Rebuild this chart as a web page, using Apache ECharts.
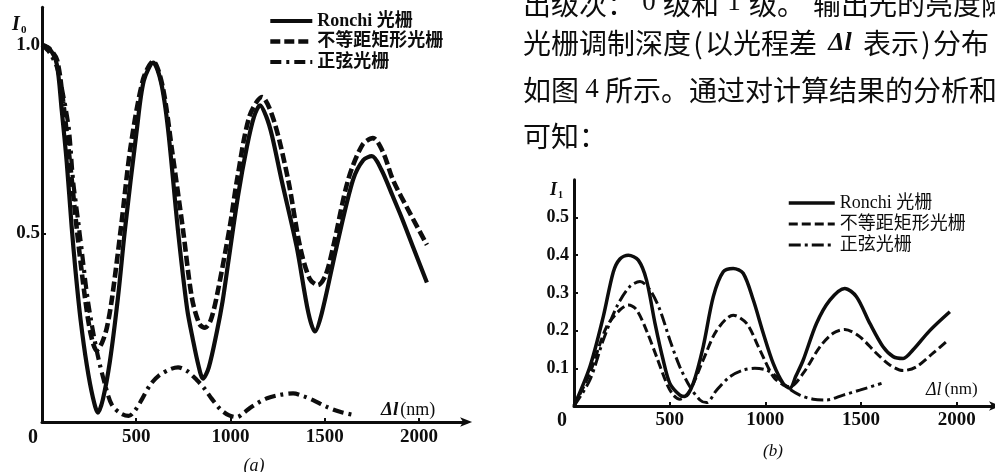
<!DOCTYPE html>
<html><head><meta charset="utf-8">
<script src="https://cdn.jsdelivr.net/npm/echarts@6/dist/echarts.min.js"></script>
<style>html,body{margin:0;padding:0;background:#fff}#c{width:995px;height:472px}</style>
</head><body><div id="c"></div>
<script>
// ---------- data ----------
const seriesNames = ['Ronchi 光栅', '不等距矩形光栅', '正弦光栅'];
const xTicksA = [0, 500, 1000, 1500, 2000];
const yTicksA = [0.5, 1.0];
const xTicksB = [0, 500, 1000, 1500, 2000];
const yTicksB = [0.1, 0.2, 0.3, 0.4, 0.5];

// (a) zero order
const ronchiA = [[0,1.0],[40,0.99],[78,0.95],[104,0.83],[131,0.69],[157,0.52],[178,0.40],[205,0.27],[238,0.15],[270,0.065],[297,0.025],[323,0.06],[360,0.16],[403,0.33],[440,0.51],[503,0.775],[540,0.905],[590,0.953],[632,0.9],[668,0.78],[721,0.51],[770,0.3],[800,0.22],[830,0.15],[854,0.115],[885,0.145],[928,0.24],[958,0.32],[990,0.43],[1040,0.6],[1087,0.73],[1125,0.81],[1157,0.84],[1190,0.81],[1220,0.76],[1271,0.642],[1351,0.465],[1413,0.29],[1448,0.24],[1485,0.29],[1563,0.465],[1650,0.642],[1705,0.695],[1750,0.705],[1800,0.67],[1860,0.6],[1910,0.54],[1968,0.465],[2042,0.37]];
const dashedA = [[0,1.0],[40,0.99],[80,0.96],[112,0.85],[148,0.69],[185,0.51],[228,0.33],[260,0.23],[290,0.19],[318,0.21],[344,0.25],[372,0.33],[420,0.52],[470,0.73],[537,0.91],[590,0.957],[640,0.89],[690,0.72],[748,0.51],[795,0.33],[835,0.26],[865,0.25],[895,0.27],[930,0.34],[997,0.52],[1034,0.64],[1100,0.81],[1167,0.862],[1230,0.8],[1306,0.642],[1369,0.465],[1420,0.38],[1464,0.363],[1505,0.39],[1545,0.465],[1624,0.642],[1700,0.735],[1756,0.753],[1810,0.715],[1862,0.642],[1952,0.554],[2042,0.47]];
const sineA = [[0,1.0],[40,0.98],[80,0.94],[115,0.86],[143,0.775],[165,0.64],[190,0.54],[212,0.45],[244,0.32],[290,0.19],[334,0.10],[371,0.045],[420,0.022],[460,0.016],[493,0.03],[530,0.06],[573,0.098],[620,0.123],[680,0.14],[722,0.145],[770,0.135],[820,0.112],[860,0.09],[900,0.062],[944,0.035],[990,0.018],[1034,0.013],[1070,0.024],[1103,0.037],[1150,0.052],[1194,0.063],[1263,0.072],[1332,0.076],[1390,0.068],[1438,0.058],[1511,0.04],[1581,0.027],[1650,0.019]];

// (b) first order
const ronchiB = [[0,0],[83,0.104],[153,0.237],[205,0.355],[240,0.39],[284,0.40],[336,0.387],[379,0.334],[423,0.22],[466,0.122],[501,0.06],[553,0.029],[580,0.025],[623,0.06],[675,0.157],[728,0.29],[780,0.356],[832,0.365],[884,0.352],[937,0.281],[989,0.193],[1041,0.113],[1093,0.06],[1128,0.047],[1160,0.08],[1198,0.122],[1267,0.219],[1337,0.281],[1415,0.312],[1476,0.29],[1546,0.219],[1615,0.157],[1668,0.131],[1720,0.126],[1772,0.149],[1859,0.2],[1964,0.25]];
const dashedB = [[0,0],[83,0.087],[170,0.21],[240,0.255],[284,0.268],[327,0.255],[379,0.2],[432,0.13],[484,0.06],[519,0.029],[553,0.018],[606,0.042],[675,0.122],[745,0.2],[832,0.241],[902,0.219],[971,0.149],[1041,0.078],[1093,0.056],[1128,0.051],[1198,0.087],[1285,0.157],[1354,0.193],[1415,0.203],[1493,0.184],[1580,0.14],[1650,0.109],[1720,0.094],[1789,0.104],[1876,0.14],[1955,0.175]];
const sineB = [[0,0],[83,0.069],[153,0.175],[223,0.263],[292,0.317],[345,0.33],[397,0.308],[449,0.255],[501,0.175],[553,0.104],[606,0.051],[658,0.016],[693,0.009],[745,0.042],[815,0.078],[884,0.095],[945,0.1],[1006,0.095],[1058,0.078],[1111,0.051],[1180,0.029],[1250,0.018],[1320,0.016],[1407,0.029],[1493,0.042],[1607,0.06]];

// ---------- styles ----------
const SERIF = '"Liberation Serif","DejaVu Serif",serif';
const MIX = '"Liberation Serif","Noto Sans CJK SC",serif';
const CJK = '"Noto Sans CJK SC","Noto Sans CJK JP",sans-serif';
const INK = '#0d0d0d';
const HIDDEN = {color: 'rgba(0,0,0,0)', borderColor: 'rgba(0,0,0,0)', borderWidth: 0, opacity: 0};

const styleA = [
  {color: INK, width: 4.2},
  {color: INK, width: 4.6, type: [10, 4]},
  {color: INK, width: 4.2, type: [11, 5, 3, 5]}
];
const styleB = [
  {color: INK, width: 3.5},
  {color: INK, width: 3, type: [9, 4]},
  {color: INK, width: 3, type: [12, 4, 3, 4]}
];

function xAxisOf(grid, ticks, max, shift, fs, margin) {
  return {
    type: 'value', gridIndex: grid, min: 0, max: max, interval: 500,
    axisLine: {show: true, onZero: false, symbol: ['none', 'arrow'], symbolSize: [7, 12], symbolOffset: [0, 6],
      lineStyle: {color: INK, width: 3}},
    axisTick: {show: true, inside: true, length: 4, customValues: ticks, lineStyle: {color: INK, width: 2}},
    axisLabel: {
      customValues: ticks, margin: margin, color: INK, fontFamily: SERIF, fontWeight: 'bold', fontSize: fs,
      formatter: v => v === 0 ? '{z|0}' : (ticks.includes(v) ? String(v) : ''),
      rich: {z: {padding: [0, shift, 0, 0], fontFamily: SERIF, fontWeight: 'bold', fontSize: fs + 1, color: INK}}
    },
    splitLine: {show: false}
  };
}
function yAxisOf(grid, ticks, max, interval, fs, margin) {
  return {
    type: 'value', gridIndex: grid, min: 0, max: max, interval: interval,
    axisLine: {show: true, onZero: false, lineStyle: {color: INK, width: 3}},
    axisTick: {show: true, inside: true, length: 4, customValues: ticks, lineStyle: {color: INK, width: 2}},
    axisLabel: {
      customValues: ticks, margin: margin, color: INK, fontFamily: SERIF, fontWeight: 'bold', fontSize: fs,
      formatter: v => ticks.some(t => Math.abs(t - v) < 1e-9) ? v.toFixed(1) : ''
    },
    splitLine: {show: false}
  };
}

const series = [];
[ronchiA, dashedA, sineA].forEach((d, i) => series.push({
  name: seriesNames[i], type: 'line', xAxisIndex: 0, yAxisIndex: 0, data: d,
  symbol: 'none', smooth: 0.3, lineStyle: styleA[i], itemStyle: {color: INK}, z: 3
}));
[ronchiB, dashedB, sineB].forEach((d, i) => series.push({
  name: seriesNames[i], type: 'line', xAxisIndex: 1, yAxisIndex: 1, data: d,
  symbol: 'none', smooth: 0.3, lineStyle: styleB[i], itemStyle: {color: INK}, z: 3
}));

const FS = 28;
const richPara = {
  t: {font: FS + 'px ' + CJK, color: INK, lineHeight: 34, verticalAlign: 'middle'},
  n1: {font: '27px ' + SERIF, color: INK, width: 28, align: 'center', lineHeight: 34, verticalAlign: 'middle', padding: [0, 0, 2, 0]},
  n2: {font: '27px ' + SERIF, color: INK, width: 30, align: 'center', lineHeight: 34, verticalAlign: 'middle', padding: [0, 0, 2, 0]},
  n3: {font: '27px ' + SERIF, color: INK, width: 26, align: 'center', lineHeight: 34, verticalAlign: 'middle'},
  g: {font: FS + 'px ' + CJK, width: 8, lineHeight: 34},
  p: {font: FS + 'px ' + CJK, color: INK, width: 14, align: 'center', lineHeight: 34, verticalAlign: 'middle'},
  d: {font: 'italic bold 26px ' + SERIF, color: INK, width: 46, align: 'center', lineHeight: 34, verticalAlign: 'middle'}
};
function para(x, y, text) {
  return {type: 'text', x: x, y: y, silent: true,
    style: {text: text, fill: INK, font: FS + 'px ' + CJK, verticalAlign: 'middle', align: 'left', rich: richPara}};
}

const graphic = [
  para(523, 4, '{t|出级次：}{n1|0}{t|级和}{n2|1}{t|级。}{g| }{t|输出光的亮度随}'),
  para(523, 43, '{t|光栅调制深度}{p|(}{t|以光程差}{d|Δl}{t|表示}{p|)}{t|分布}'),
  para(523, 90, '{t|如图}{n3|4}{t|所示。通过对计算结果的分析和}'),
  para(523, 136, '{t|可知：}'),
  // axis names (a)
  {type: 'text', x: 12, y: 15, silent: true, style: {text: 'I', font: 'italic bold 20px ' + SERIF, fill: INK}},
  {type: 'text', x: 21, y: 25, silent: true, style: {text: '0', font: 'bold 11px ' + SERIF, fill: INK}},
  {type: 'text', x: 381, y: 410, silent: true, style: {
    text: '{d|Δl}{u|(nm)}', verticalAlign: 'middle',
    rich: {d: {font: 'italic bold 19px ' + SERIF, fill: INK, padding: [0, 2, 0, 0]}, u: {font: '18px ' + SERIF, fill: INK}}}},
  {type: 'text', x: 254, y: 466, silent: true, style: {text: '(a)', font: 'italic 18px ' + SERIF, fill: INK, align: 'center', verticalAlign: 'middle'}},
  // axis names (b)
  {type: 'text', x: 550, y: 181, silent: true, style: {text: 'I', font: 'italic bold 18px ' + SERIF, fill: INK}},
  {type: 'text', x: 558, y: 190, silent: true, style: {text: '1', font: 'bold 10px ' + SERIF, fill: INK}},
  {type: 'text', x: 926, y: 390, silent: true, style: {
    text: '{d|Δl}{u|(nm)}', verticalAlign: 'middle',
    rich: {d: {font: 'italic 18px ' + SERIF, fill: INK, padding: [0, 3, 0, 0]}, u: {font: '17px ' + SERIF, fill: INK}}}},
  {type: 'text', x: 773, y: 452, silent: true, style: {text: '(b)', font: 'italic 17px ' + SERIF, fill: INK, align: 'center', verticalAlign: 'middle'}}
];

const option = {
  backgroundColor: '#ffffff',
  animation: false,
  grid: [
    {left: 42, top: 7.3, width: 424.1, height: 414.7},
    {left: 574, top: 179.8, width: 421.3, height: 226.2}
  ],
  xAxis: [xAxisOf(0, xTicksA, 2250, 18, 19, 6), xAxisOf(1, xTicksB, 2200, 24, 19, 5)],
  yAxis: [yAxisOf(0, yTicksA, 1.1, 0.5, 19, 2), yAxisOf(1, yTicksB, 0.6, 0.1, 18, 5)],
  legend: [
    {left: 268, top: 12, padding: 0, orient: 'vertical', itemWidth: 42, itemHeight: 20, itemGap: 2.5, selectedMode: false,
      itemStyle: HIDDEN,
      data: seriesNames.map((n, i) => ({name: n, lineStyle: styleA[i], itemStyle: HIDDEN})),
      textStyle: {fontFamily: MIX, fontSize: 18, fontWeight: 'bold', color: INK}},
    {left: 787, top: 194, padding: 0, orient: 'vertical', itemWidth: 46, itemHeight: 20, itemGap: 3, selectedMode: false,
      itemStyle: HIDDEN,
      data: seriesNames.map((n, i) => ({name: n, lineStyle: styleB[i], itemStyle: HIDDEN})),
      textStyle: {fontFamily: MIX, fontSize: 18, color: INK}}
  ],
  graphic: graphic,
  series: series
};

const chart = echarts.init(document.getElementById('c'), null, {renderer: 'canvas'});
chart.setOption(option);
</script>
</body></html>
